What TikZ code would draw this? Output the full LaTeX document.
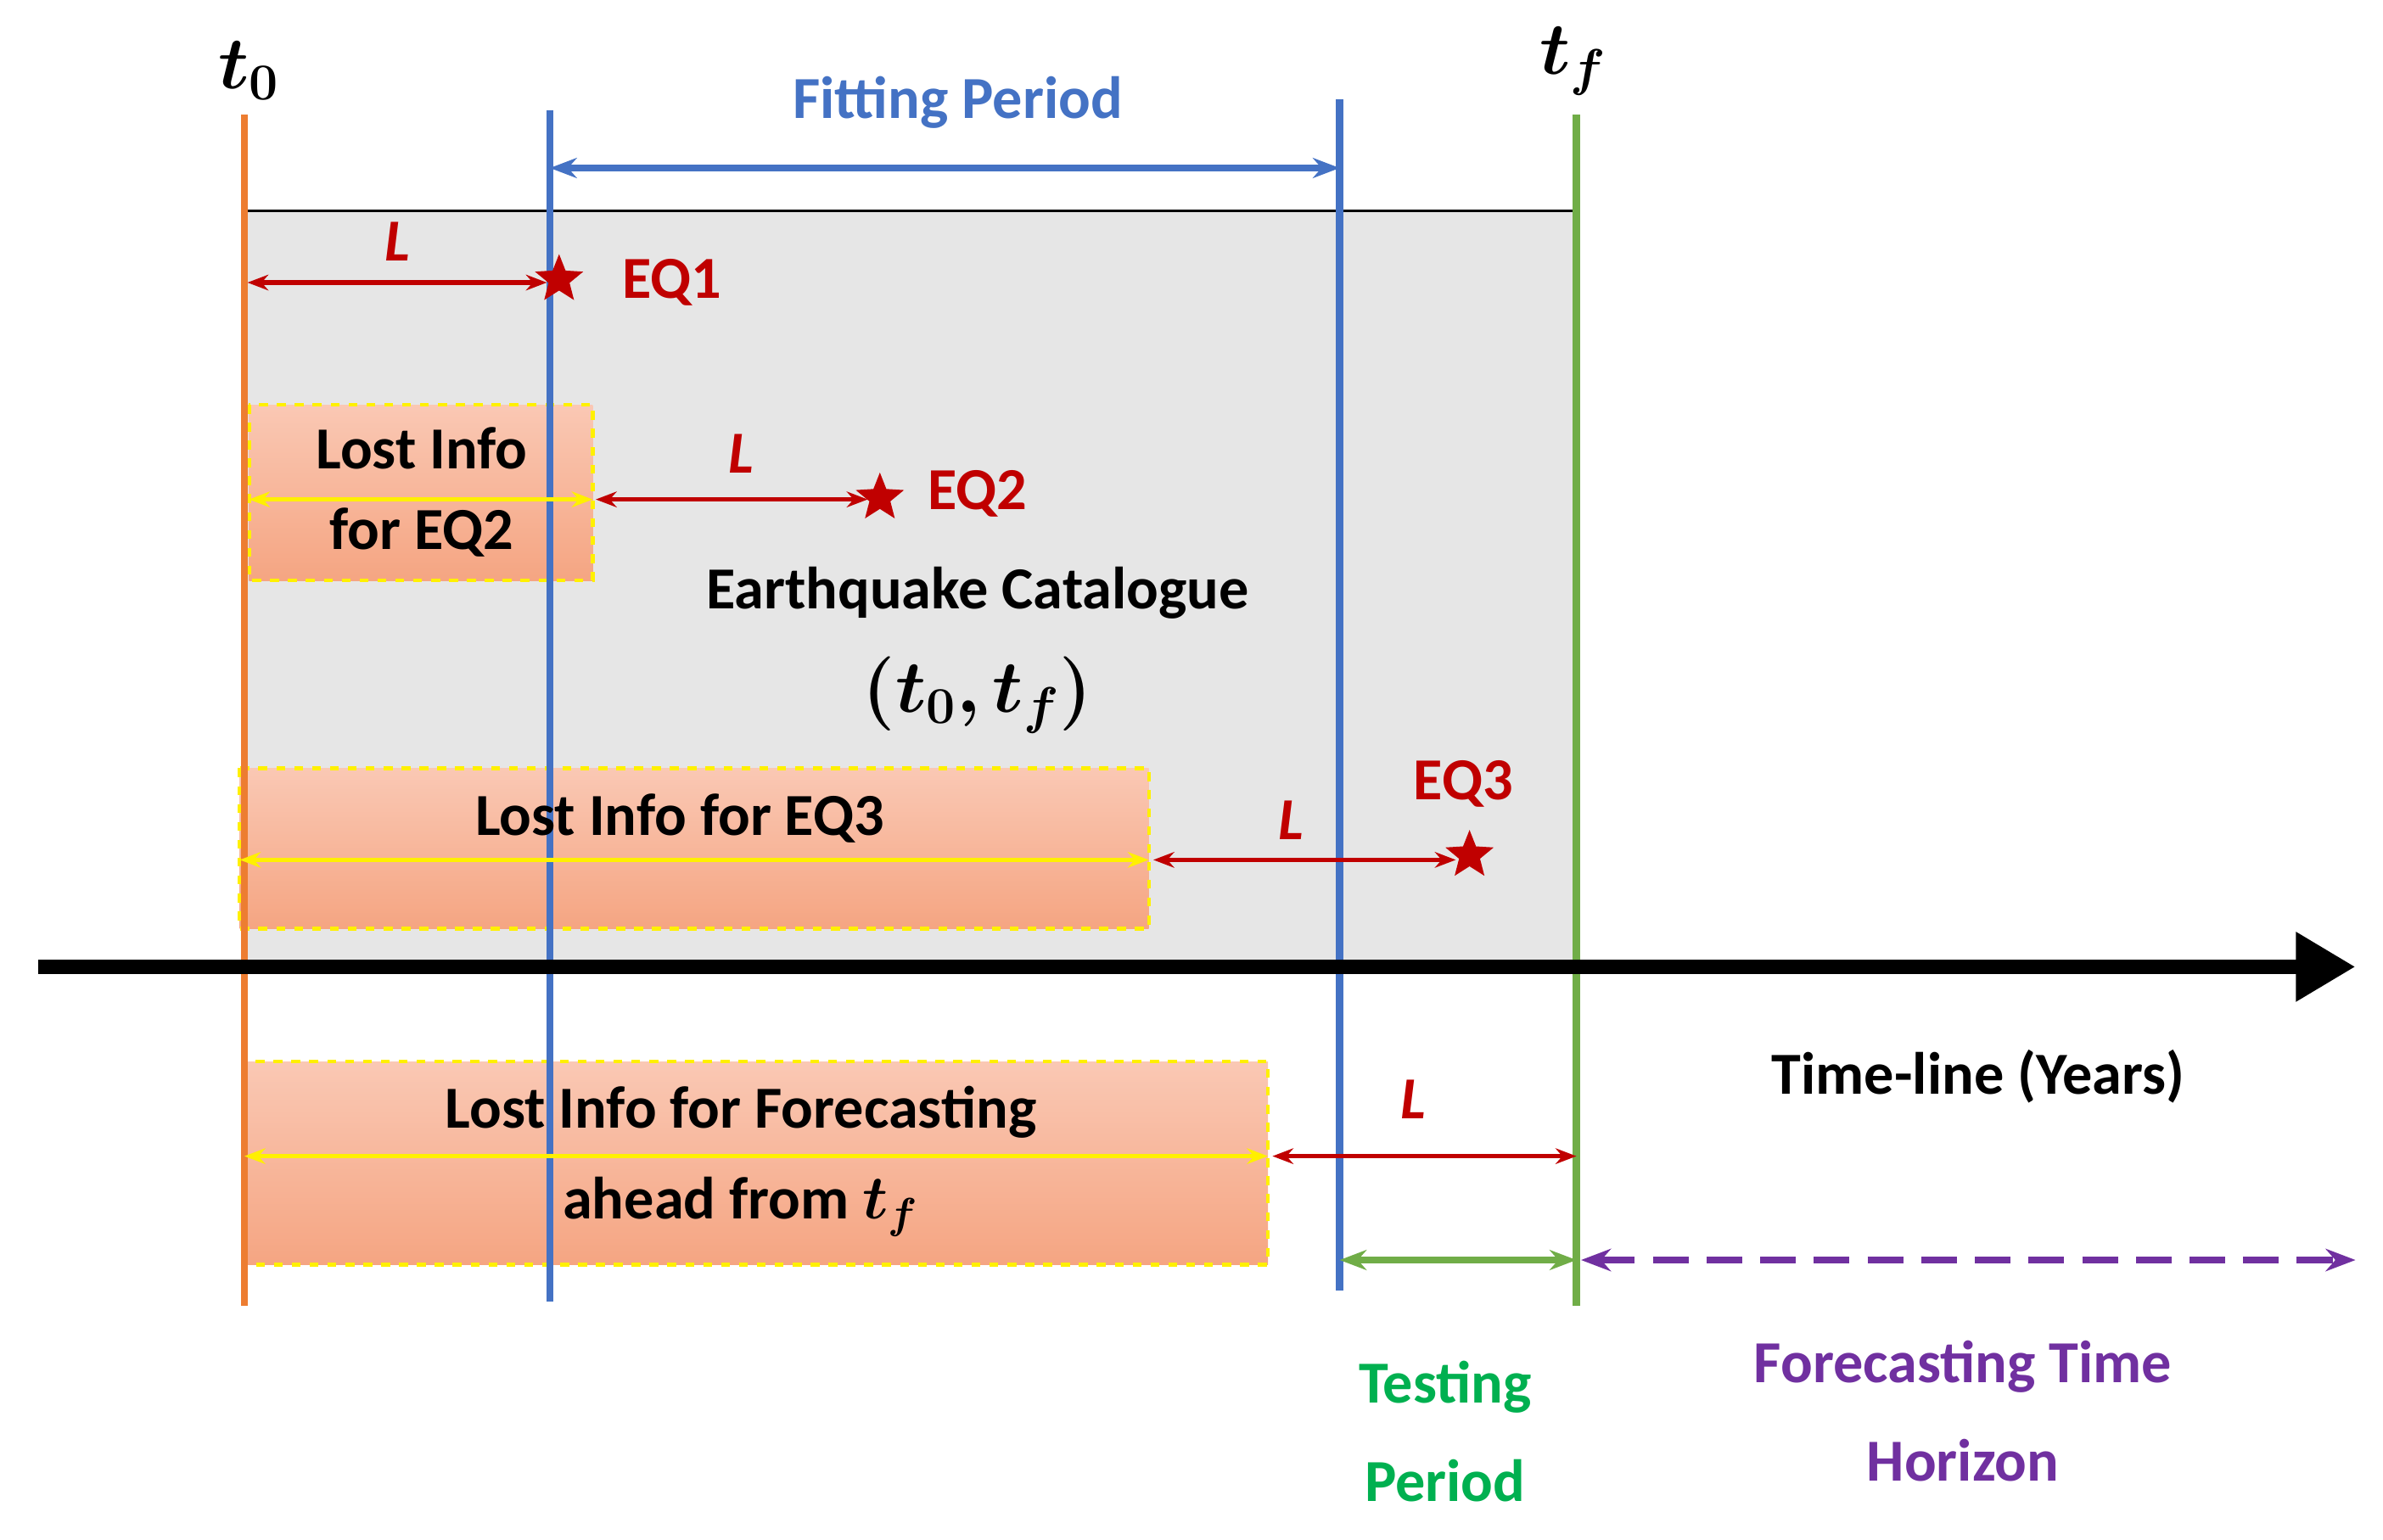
\documentclass[tikz,border=0pt]{standalone}
\usepackage{fontspec}
\setmainfont{Carlito}
\usepackage{amsmath,bm}
\usetikzlibrary{arrows.meta,shapes.geometric}
\definecolor{cor}{RGB}{237,125,49}
\definecolor{cbl}{RGB}{68,114,196}
\definecolor{cgr}{RGB}{112,173,71}
\definecolor{cred}{RGB}{192,0,0}
\definecolor{cpu}{RGB}{112,48,160}
\definecolor{ctg}{RGB}{0,176,80}
\definecolor{cgray}{RGB}{230,230,230}
\definecolor{csal}{RGB}{245,165,130}
\definecolor{csalt}{RGB}{250,200,180}
\definecolor{cyel}{RGB}{255,240,0}
\begin{document}
\begin{tikzpicture}[x=0.018cm,y=-0.018cm,
  txt/.style={font=\fontsize{20}{25}\selectfont\bfseries,align=center},
  vline/.style={line width=2.5pt},
  redarr/.style={cred,line width=1.6pt,{Stealth[length=7pt]}-{Stealth[length=7pt]}},
  yelarr/.style={cyel,line width=1.6pt,{Stealth[length=7pt]}-{Stealth[length=7pt]}},
  lostbox/.style={draw=cyel,dashed,line width=1.2pt,top color=csalt,bottom color=csal},
  star5/.style={star,star points=5,star point ratio=2.3,fill=cred,inner sep=0pt,minimum size=17pt},
  lbl/.style={txt,cred,font=\fontsize{20}{25}\selectfont\bfseries\itshape}]
\useasboundingbox (0,0) rectangle (1560,1008);
\fill[cgray] (160,138) rectangle (1032,632);
\draw[line width=0.8pt] (160,138) -- (1032,138);
% boxes
\path[lostbox] (163,265) rectangle (388,380);
\path[lostbox] (157,503) rectangle (752,608);
\path[lostbox] (160,695) rectangle (830,828);
% vertical lines
\coordinate (o1) at (160,75); \coordinate (o2) at (160,855);
\coordinate (b1) at (360,72); \coordinate (b2) at (360,852);
\coordinate (c1) at (877,65); \coordinate (c2) at (877,845);
\coordinate (g1) at (1032,75); \coordinate (g2) at (1032,855);
\draw[vline,cor] (o1) -- (o2);
\draw[vline,cbl] (b1) -- (b2);
\draw[vline,cbl] (c1) -- (c2);
\draw[vline,cgr] (g1) -- (g2);
% axis
\coordinate (ax1) at (25,633); \coordinate (ax2) at (1542,633);
\draw[line width=5pt,-{Triangle[length=20pt,width=22pt]}] (ax1) -- (ax2);
% labels top
\node[txt] (t0) at (163,46) {\fontsize{26}{30}\selectfont$\bm{t_0}$};
\node[txt] (tf) at (1030,40) {\fontsize{26}{30}\selectfont$\bm{t_f}$};
\node[txt,cbl] (fp) at (627,67) {Fitting Period};
\coordinate (fa) at (360,110); \coordinate (fb) at (877,110);
\draw[cbl,line width=2pt,{Stealth[length=9pt]}-{Stealth[length=9pt]}] (fa) -- (fb);
% EQ1
\coordinate (l1a) at (162,185); \coordinate (l1b) at (358,185);
\draw[redarr] (l1a) -- (l1b);
\node[lbl] (L1) at (260,158) {L};
\node[star5] (s1) at (366,183) {};
\node[txt,cred] (eq1) at (440,185) {EQ1};
% EQ2
\node[txt] (lb1) at (276,322) {Lost Info\\[2pt]for EQ2};
\coordinate (y1a) at (163,327); \coordinate (y1b) at (388,327);
\draw[yelarr] (y1a) -- (y1b);
\coordinate (l2a) at (390,327); \coordinate (l2b) at (568,327);
\draw[redarr] (l2a) -- (l2b);
\node[lbl] (L2) at (485,297) {L};
\node[star5] (s2) at (576,326) {};
\node[txt,cred] (eq2) at (640,323) {EQ2};
\node[txt] (cat) at (640,388) {Earthquake Catalogue};
\node[txt] (cat2) at (640,455) {\fontsize{24}{28}\selectfont$\bm{(t_0, t_f)}$};
% EQ3
\node[txt] (lb2) at (445,536) {Lost Info for EQ3};
\coordinate (y2a) at (157,563); \coordinate (y2b) at (752,563);
\draw[yelarr] (y2a) -- (y2b);
\coordinate (l3a) at (755,563); \coordinate (l3b) at (953,563);
\draw[redarr] (l3a) -- (l3b);
\node[lbl] (L3) at (845,537) {L};
\node[star5] (s3) at (962,560) {};
\node[txt,cred] (eq3) at (958,513) {EQ3};
% forecasting
\node[txt] (tl) at (1295,705) {Time-line (Years)};
\node[txt] (lb3a) at (485,728) {Lost Info for Forecasting};
\node[txt] (lb3b) at (485,790) {ahead from $\bm{t_f}$};
\coordinate (y3a) at (160,757); \coordinate (y3b) at (830,757);
\draw[yelarr] (y3a) -- (y3b);
\coordinate (l4a) at (833,757); \coordinate (l4b) at (1032,757);
\draw[redarr] (l4a) -- (l4b);
\node[lbl] (L4) at (925,720) {L};
\coordinate (ga) at (877,825); \coordinate (gb) at (1032,825);
\draw[cgr,line width=2.5pt,{Stealth[length=9pt]}-{Stealth[length=9pt]}] (ga) -- (gb);
\coordinate (pa) at (1035,825); \coordinate (pb) at (1542,825);
\draw[cpu,line width=2.5pt,dash pattern=on 12pt off 6pt,{Stealth[length=10pt]}-{Stealth[length=10pt]}] (pa) -- (pb);
\node[txt,ctg] (tp) at (946,937) {Testing\\[8pt]Period};
\node[txt,cpu] (fh) at (1285,924) {Forecasting Time\\[8pt]Horizon};
\end{tikzpicture}
\end{document}
